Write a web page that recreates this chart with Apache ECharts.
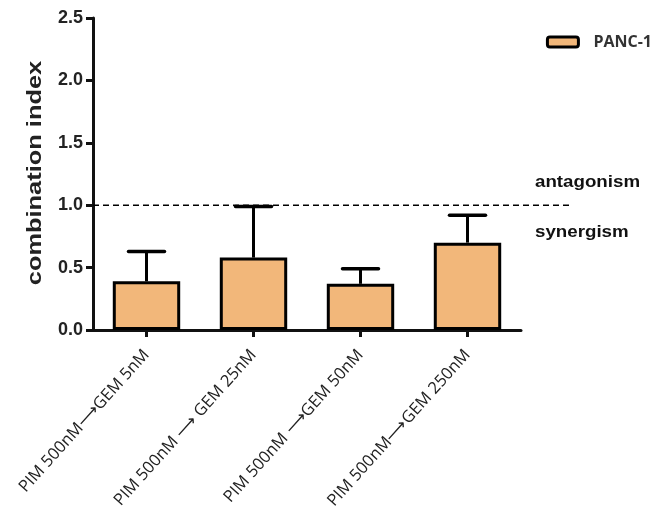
<!DOCTYPE html>
<html><head><meta charset="utf-8">
<script src="https://cdn.jsdelivr.net/npm/echarts@6/dist/echarts.min.js"></script>
<style>html,body{margin:0;padding:0;background:#fff}#c{width:661px;height:520px}</style>
</head><body><div id="c"></div>
<script>
var categories = ['PIM 500nM\u27F6GEM 5nM', 'PIM 500nM \u27F6 GEM 25nM', 'PIM 500nM \u27F6GEM 50nM', 'PIM 500nM\u27F6GEM 250nM'];
var values = [0.39, 0.58, 0.37, 0.70];
var errorTops = [0.63, 0.99, 0.49, 0.92];
var thresholdValue = [1.0];
var seriesName = 'PANC-1';
var yTitle = 'combination index';

var chart = echarts.init(document.getElementById('c'), null, {renderer: 'canvas'});
var barColor = '#F2B77A';
chart.setOption({
  animation: false,
  backgroundColor: '#fff',
  grid: {left: 93, right: 140, top: 18, bottom: 190, containLabel: false},
  legend: {
    data: [seriesName], right: 4, top: 29, itemWidth: 31, itemHeight: 10, itemGap: 14,
    textStyle: {fontFamily: 'Open Sans', fontSize: 16, color: '#333', fontWeight: 'bold', padding: [0, 0, 0, 10]},
    itemStyle: {borderWidth: 3, borderColor: '#000'}
  },
  graphic: [{
    type: 'text', x: 35, y: 173, rotation: Math.PI / 2, scaleX: 1.27,
    style: {text: yTitle, font: 'bold 20px "Liberation Sans"', fill: '#222', align: 'center', verticalAlign: 'middle'}
  }],
  xAxis: {
    type: 'category', data: categories,
    axisLine: {lineStyle: {color: '#111', width: 3}},
    axisTick: {show: true, alignWithLabel: true, length: 7, lineStyle: {color: '#111', width: 3}},
    axisLabel: {rotate: 48, interval: 0, margin: 22, fontFamily: 'Open Sans', fontSize: 16.5, color: '#222'}
  },
  yAxis: {
    type: 'value', min: 0, max: 2.5, interval: 0.5,
    axisLine: {show: true, lineStyle: {color: '#111', width: 3}},
    axisTick: {show: true, length: 7, lineStyle: {color: '#111', width: 3}},
    axisLabel: {fontFamily: 'Liberation Sans', fontSize: 18, fontWeight: 'bold', color: '#222', margin: 10,
      formatter: function (v) { return v.toFixed(1); }},
    splitLine: {show: false}
  },
  series: [
    {
      name: seriesName, type: 'bar', data: values, barWidth: '63%', z: 2,
      itemStyle: {color: barColor, borderColor: '#000', borderWidth: 3}
    },
    {
      type: 'custom', z: 3, silent: true,
      data: values.map(function (v, i) { return [i, v, errorTops[i]]; }),
      renderItem: function (params, api) {
        var p0 = api.coord([api.value(0), api.value(1)]);
        var p1 = api.coord([api.value(0), api.value(2)]);
        var half = 18;
        return {type: 'group', children: [
          {type: 'line', shape: {x1: p0[0], y1: p0[1], x2: p1[0], y2: p1[1]}, style: {stroke: '#000', lineWidth: 3}},
          {type: 'line', shape: {x1: p1[0] - half, y1: p1[1], x2: p1[0] + half, y2: p1[1]}, style: {stroke: '#000', lineWidth: 3.5, lineCap: 'round'}}
        ]};
      }
    },
    {
      type: 'custom', z: 1, silent: true, clip: false,
      data: thresholdValue.map(function (v) { return [0, v]; }),
      renderItem: function (params, api) {
        var cs = params.coordSys;
        var y = api.coord([0, api.value(1)])[1];
        return {type: 'group', children: [
          {type: 'line', shape: {x1: cs.x, y1: y, x2: cs.x + cs.width + 48, y2: y},
            style: {stroke: '#000', lineWidth: 1.5, lineDash: [6, 4]}},
          {type: 'text', x: cs.x + cs.width + 14, y: y - 23, scaleX: 1.17,
            style: {text: 'antagonism', font: 'bold 16px "Liberation Sans"', fill: '#111', verticalAlign: 'middle'}},
          {type: 'text', x: cs.x + cs.width + 14, y: y + 27, scaleX: 1.17,
            style: {text: 'synergism', font: 'bold 16px "Liberation Sans"', fill: '#111', verticalAlign: 'middle'}}
        ]};
      }
    }
  ]
});
</script></body></html>
